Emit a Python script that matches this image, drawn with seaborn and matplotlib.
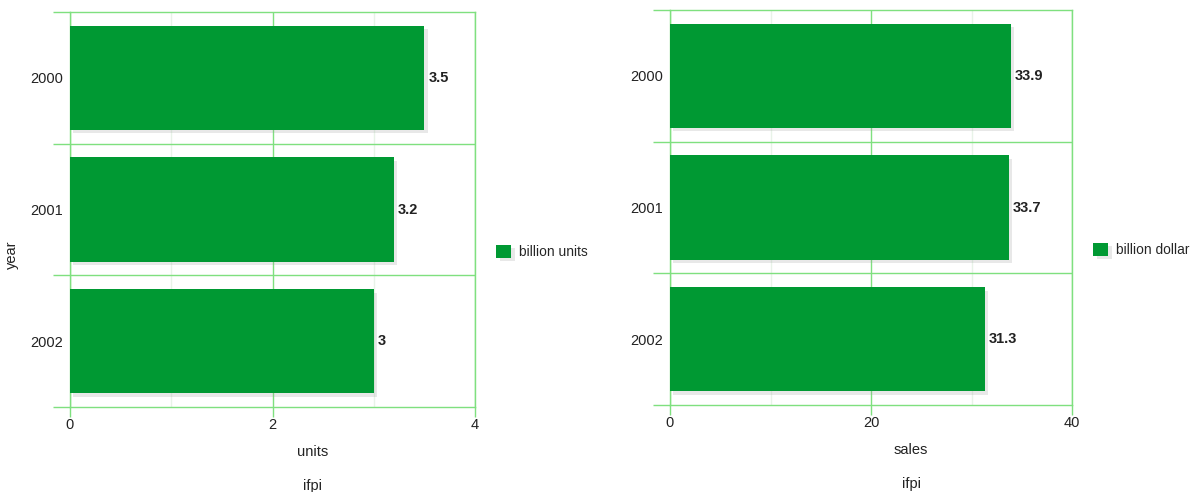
import matplotlib
matplotlib.use("Agg")
import matplotlib.pyplot as plt
import matplotlib.patheffects as pe
from matplotlib.patches import Patch
import seaborn as sns
import pandas as pd
import numpy as np

# Data
years = ["2000", "2001", "2002"]
units = [3.5, 3.2, 3.0]
sales = [33.9, 33.7, 31.3]
unit_labels = ["3.5", "3.2", "3"]
sales_labels = ["33.9", "33.7", "31.3"]

sns.set_theme(style="white")
plt.rcParams["font.family"] = ["Liberation Sans", "DejaVu Sans"]

BAR = "#009933"
GRID = "#7fe07f"
MINOR = "#e8f3e8"
TEXT = "#222222"
FS = 10.5
LEG_FS = 9.9

fig = plt.figure(figsize=(11.99, 4.92), dpi=100)
ax1 = fig.add_axes([70 / 1199, 1 - 407 / 492, 405 / 1199, 395 / 492])
ax2 = fig.add_axes([670 / 1199, 1 - 405 / 492, 402 / 1199, 395 / 492])

shadow = [pe.SimplePatchShadow(offset=(2.5, -2.5), shadow_rgbFace="#999999", alpha=0.22), pe.Normal()]


def draw(ax, values, labels, xmax, xlabel, legend_label, ylabel):
    df = pd.DataFrame({"year": years, "value": values})
    sns.barplot(data=df, x="value", y="year", orient="h", color=BAR,
                saturation=1, width=0.79, ax=ax, zorder=3)
    for p in ax.patches:
        p.set_path_effects(shadow)
        p.set_edgecolor("none")
    ax.set_xlim(0, xmax)
    ax.set_ylim(2.5, -0.5)

    # grid: faint minor verticals, green major verticals and row separators
    majors = np.linspace(0, xmax, 3)
    ax.set_xticks(majors)
    ax.set_xticklabels([f"{v:g}" for v in majors])
    for x in np.linspace(0, xmax, 5)[1::2]:
        ax.axvline(x, color=MINOR, lw=1, zorder=1, snap=True)
    for x in majors:
        ax.axvline(x, color=GRID, lw=1, zorder=1, snap=True)
    for y in [0.5, 1.5]:
        ax.axhline(y, color=GRID, lw=1, zorder=1, snap=True)
    ax.set_yticks([-0.5, 0.5, 1.5, 2.5], minor=True)
    ax.tick_params(axis="y", which="minor", length=12, color=GRID, width=1, left=True)
    ax.tick_params(axis="y", which="major", length=0, pad=5, labelsize=FS, labelcolor=TEXT)
    ax.tick_params(axis="x", which="major", length=7, color=GRID, width=1, bottom=True,
                   pad=1, labelsize=FS, labelcolor=TEXT)
    for s in ax.spines.values():
        s.set_color(GRID)
        s.set_linewidth(1)

    for i, (v, lab) in enumerate(zip(values, labels)):
        ax.annotate(lab, (v, i), xytext=(3, 0), textcoords="offset points",
                    va="center", ha="left", fontsize=FS, fontweight="bold", color=TEXT)

    ax.set_xlabel(xlabel, fontsize=FS, color=TEXT)
    ax.xaxis.set_label_coords(0.6, -0.095)
    ax.set_ylabel(ylabel, fontsize=FS, color=TEXT)
    ax.yaxis.set_label_coords(-0.125, 0.385)
    ax.text(0.6, -0.2, "ifpi", transform=ax.transAxes, ha="center", va="center",
            fontsize=FS, color=TEXT)

    handle = Patch(facecolor=BAR, edgecolor="none", path_effects=shadow)
    ax.legend([handle], [legend_label], loc="center left", bbox_to_anchor=(1.039, 0.393),
              frameon=False, fontsize=LEG_FS, handlelength=1.1, handleheight=1.1,
              handletextpad=0.55, borderaxespad=0)


draw(ax1, units, unit_labels, 4, "units", "billion units", "year")
draw(ax2, sales, sales_labels, 40, "sales", "billion dollar", "")

fig.savefig("out.png", dpi=100, facecolor="white")
